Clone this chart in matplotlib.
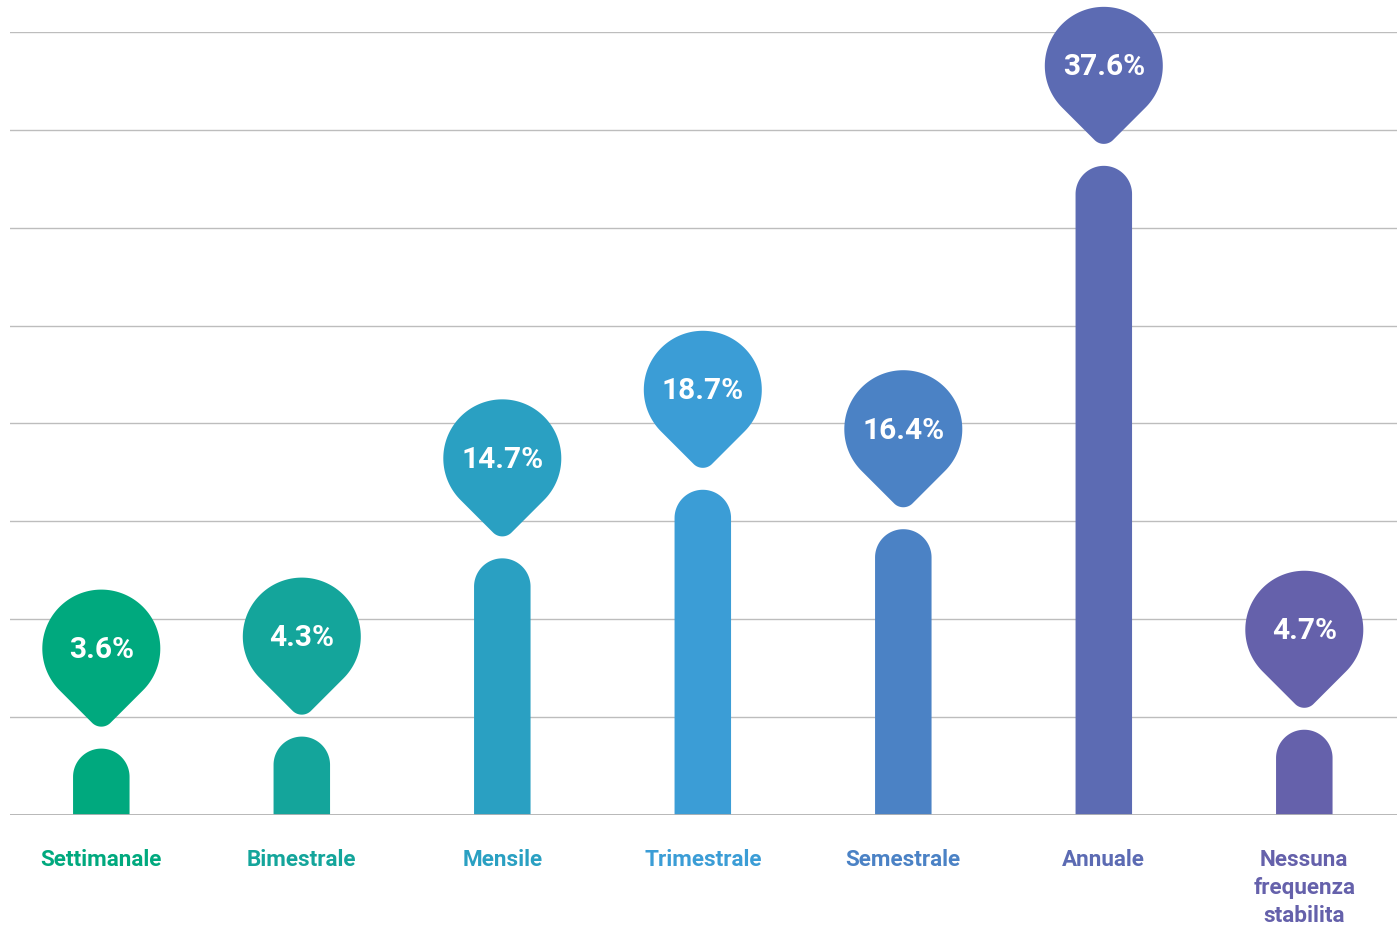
import numpy as np
import matplotlib
matplotlib.use("Agg")
import matplotlib.pyplot as plt
import matplotlib.transforms as mtransforms
from matplotlib.path import Path
from matplotlib.patches import PathPatch

plt.rcParams['font.family'] = ['Roboto', 'DejaVu Sans']

categories = ["Settimanale", "Bimestrale", "Mensile", "Trimestrale",
              "Semestrale", "Annuale", "Nessuna\nfrequenza\nstabilita"]
values = [3.6, 4.3, 14.7, 18.7, 16.4, 37.6, 4.7]
value_labels = ["3.6%", "4.3%", "14.7%", "18.7%", "16.4%", "37.6%", "4.7%"]
colors = ["#00a97e", "#14a59b", "#2aa0c2", "#3b9dd6", "#4b82c5", "#5c6bb3", "#6561ab"]

W, H = 1397, 925
fig = plt.figure(figsize=(W / 100, H / 100), dpi=100)
ax = fig.add_axes([10 / W, 110 / H, 1387 / W, 783 / H])

unit_px = 200.5
py = 17.14
ylo = -4.7 / py
yhi = ylo + 783 / py
x0 = -(101.3 - 10) / unit_px
ax.set_xlim(x0, x0 + 1387 / unit_px)
ax.set_ylim(ylo, yhi)

ax.set_yticks(np.linspace(ylo, yhi, 9))
ax.grid(axis='y', color='#bdbdbd', lw=1, zorder=0)
ax.set_axisbelow(True)
ax.tick_params(length=0, labelleft=False, labelbottom=False)
for s in ax.spines.values():
    s.set_visible(False)

x = np.arange(len(categories))
bar_w_px = 56.5
cap_r = bar_w_px / 2


def rounded_bar_path(h_px):
    # rectangle with semicircular top, in pixel units, bottom at y=0
    r = cap_r
    verts = [(-r, 0), (-r, h_px - r)]
    angs = np.linspace(np.pi, 0, 60)
    verts += [(r * np.cos(a), h_px - r + r * np.sin(a)) for a in angs]
    verts += [(r, 0), (-r, 0)]
    codes = [Path.MOVETO] + [Path.LINETO] * (len(verts) - 2) + [Path.CLOSEPOLY]
    return Path(verts, codes)


# pin path in pixel units (centered at circle center)
R = 59.0
rt = 13.0
verts = []
angs = np.linspace(np.deg2rad(-45), np.deg2rad(225), 120)
verts += [(R * np.cos(a), R * np.sin(a)) for a in angs]
depth = R * np.sqrt(2) - rt * np.sqrt(2)
angs2 = np.linspace(np.deg2rad(-135), np.deg2rad(-45), 30)
verts += [(rt * np.cos(a), -depth + rt * np.sin(a)) for a in angs2]
verts.append(verts[0])
codes = [Path.MOVETO] + [Path.LINETO] * (len(verts) - 2) + [Path.CLOSEPOLY]
pin_path = Path(verts, codes)

pin_offset = 100  # px above bar top

for xi, v, c, lab, cat in zip(x, values, colors, value_labels, categories):
    # bar height in display pixels, via the data transform
    y_top = ax.transData.transform((xi, v))[1]
    y_bot = ax.transData.transform((xi, ylo))[1]
    base = mtransforms.ScaledTranslation(xi, ylo, ax.transData)
    bar = PathPatch(rounded_bar_path(y_top - y_bot),
                    transform=mtransforms.Affine2D() + base,
                    facecolor=c, edgecolor='none', zorder=2)
    ax.add_patch(bar)
    tr = mtransforms.ScaledTranslation(xi, v, ax.transData)
    pin = PathPatch(pin_path,
                    transform=mtransforms.Affine2D().translate(0, pin_offset) + tr,
                    facecolor=c, edgecolor='none', zorder=3, clip_on=False)
    ax.add_patch(pin)
    ax.annotate(lab, xy=(xi, v), xytext=(0, (pin_offset - 1.5) * 0.72),
                textcoords='offset points', ha='center', va='center',
                color='white', fontsize=21.5, fontweight='bold', zorder=4,
                annotation_clip=False)
    ax.annotate(cat, xy=(xi, ylo), xytext=(0, -34.5 * 0.72),
                textcoords='offset points', ha='center', va='top',
                color=c, fontsize=16.2, fontweight='bold', linespacing=1.33,
                annotation_clip=False)

ax.axhline(ylo, color='#b3b3b3', lw=2, zorder=5)

fig.savefig("out.png", dpi=100)
